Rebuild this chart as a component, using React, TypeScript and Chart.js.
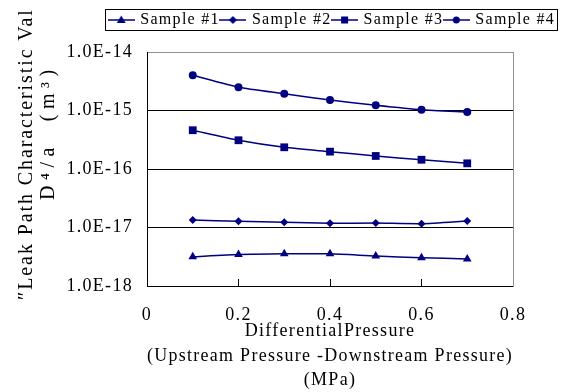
import React, { useEffect, useRef } from 'react';
import { Chart, registerables } from 'chart.js';

Chart.register(...registerables);

// ---- data ----
const pressures = [0.1, 0.2, 0.3, 0.4, 0.5, 0.6, 0.7];
const sample1 = [3.15e-18, 3.45e-18, 3.55e-18, 3.55e-18, 3.25e-18, 3.05e-18, 2.9e-18];
const sample2 = [1.34e-17, 1.28e-17, 1.23e-17, 1.18e-17, 1.19e-17, 1.16e-17, 1.29e-17];
const sample3 = [4.6e-16, 3.1e-16, 2.35e-16, 1.98e-16, 1.67e-16, 1.44e-16, 1.25e-16];
const sample4 = [4.0e-15, 2.5e-15, 1.94e-15, 1.51e-15, 1.23e-15, 1.03e-15, 0.94e-15];
const seriesNames = ['Sample #1', 'Sample #2', 'Sample #3', 'Sample #4'];
const seriesStyles = ['triangle', 'rectRot', 'rect', 'circle'];
const seriesRadii = [5, 4, 5.5, 4];
const yTickValues = [1e-18, 1e-17, 1e-16, 1e-15, 1e-14];
const xTickValues = [0, 0.2, 0.4, 0.6, 0.8];
const xTitleLines = ['DifferentialPressure', '(Upstream Pressure -Downstream Pressure)', '(MPa)'];
const yTitleLine1 = '\u2033Leak Path Characteristic Val';
const yTitleLine2 = 'D\u2074/a  (m\u00b3)';

const NAVY = '#000080';
const FONT = "'Liberation Serif', 'Times New Roman', serif";
const ICON_W = 27;

function makeIcon(style: string): HTMLCanvasElement {
  const c = document.createElement('canvas');
  c.width = ICON_W;
  c.height = 12;
  const g = c.getContext('2d')!;
  g.strokeStyle = NAVY;
  g.fillStyle = NAVY;
  g.lineWidth = 1.5;
  g.beginPath();
  g.moveTo(0, 6);
  g.lineTo(ICON_W, 6);
  g.stroke();
  g.beginPath();
  const cx = ICON_W / 2, cy = 6;
  if (style === 'triangle') {
    g.moveTo(cx, cy - 4.5);
    g.lineTo(cx + 4.5, cy + 3);
    g.lineTo(cx - 4.5, cy + 3);
    g.closePath();
  } else if (style === 'rectRot') {
    g.moveTo(cx, cy - 4);
    g.lineTo(cx + 4, cy);
    g.lineTo(cx, cy + 4);
    g.lineTo(cx - 4, cy);
    g.closePath();
  } else if (style === 'rect') {
    g.rect(cx - 3.5, cy - 3.5, 7, 7);
  } else {
    g.arc(cx, cy, 3.5, 0, Math.PI * 2);
  }
  g.fill();
  return c;
}

function formatSci(v: number): string {
  const e = Math.round(Math.log10(v));
  return '1.0E' + (e < 0 ? '-' : '+') + String(Math.abs(e)).padStart(2, '0');
}

const spacingPlugin = {
  id: 'spacing',
  beforeUpdate(chart: any) { chart.ctx.letterSpacing = '1.3px'; },
  beforeDraw(chart: any) { chart.ctx.letterSpacing = '1.3px'; },
};

const extrasPlugin = {
  id: 'extras',
  afterDraw(chart: any) {
    const ctx = chart.ctx as CanvasRenderingContext2D;
    const area = chart.chartArea;
    // legend frame
    const boxes = chart.legend?.legendHitBoxes || [];
    if (boxes.length) {
      let minX = Infinity, maxX = -Infinity, minY = Infinity, maxY = -Infinity;
      boxes.forEach((b: any) => {
        minX = Math.min(minX, b.left);
        maxX = Math.max(maxX, b.left + b.width);
        minY = Math.min(minY, b.top);
        maxY = Math.max(maxY, b.top + b.height);
      });
      ctx.save();
      ctx.strokeStyle = '#000';
      ctx.lineWidth = 1;
      ctx.strokeRect(Math.round(minX - 5) + 0.5, Math.round(minY - 3) + 0.5, Math.round(maxX - minX + 7), Math.round(maxY - minY + 5));
      ctx.restore();
    }
    // y axis title (two rotated lines)
    ctx.save();
    ctx.fillStyle = '#000';
    ctx.textAlign = 'left';
    ctx.textBaseline = 'alphabetic';
    ctx.font = '20px ' + FONT;
    ctx.letterSpacing = '1.9px';
    ctx.translate(area.left - 115, area.bottom + 14);
    ctx.rotate(-Math.PI / 2);
    ctx.fillText(yTitleLine1, 0, 0);
    ctx.restore();
    ctx.save();
    ctx.fillStyle = '#000';
    ctx.textAlign = 'left';
    ctx.textBaseline = 'alphabetic';
    ctx.font = '20px ' + FONT;
    ctx.letterSpacing = '5.5px';
    ctx.translate(area.left - 93, area.bottom - 86);
    ctx.rotate(-Math.PI / 2);
    ctx.fillText(yTitleLine2, 0, 0);
    ctx.restore();
  },
};

export default function App() {
  const ref = useRef<HTMLCanvasElement>(null);
  useEffect(() => {
    if (!ref.current) return;
    Chart.defaults.color = '#000';
    Chart.defaults.font.family = FONT;
    const all = [sample1, sample2, sample3, sample4];
    const icons = seriesStyles.map(makeIcon);
    const chart = new Chart(ref.current, {
      type: 'line',
      data: {
        datasets: all.map((vals, i) => ({
          label: seriesNames[i],
          data: pressures.map((x, j) => ({ x, y: vals[j] })),
          borderColor: NAVY,
          backgroundColor: NAVY,
          borderWidth: 1.5,
          pointStyle: seriesStyles[i] as any,
          pointRadius: seriesRadii[i],
          pointBorderWidth: 0,
          pointBackgroundColor: NAVY,
          tension: 0.2,
          xAxisID: 'x',
          yAxisID: 'y',
        })),
      },
      options: {
        animation: false,
        responsive: false,
        devicePixelRatio: 1,
        layout: { padding: { top: 10, left: 0, right: 4, bottom: 0 } },
        plugins: {
          tooltip: { enabled: false },
          legend: {
            position: 'top',
            align: 'end',
            labels: {
              usePointStyle: true,
              pointStyleWidth: 22,
              padding: 2,
              font: { size: 16, family: FONT },
              color: '#000',
              generateLabels: (c: any) => {
                const base = (Chart.defaults.plugins.legend.labels as any).generateLabels(c);
                return base.map((l: any, i: number) => ({ ...l, pointStyle: icons[i], fontColor: '#000' }));
              },
            },
          },
        },
        scales: {
          x: {
            type: 'linear',
            position: 'bottom',
            min: 0,
            max: 0.8,
            afterBuildTicks: (s: any) => { s.ticks = xTickValues.map((v) => ({ value: v })); },
            afterFit: (s: any) => { s.height = 106; },
            ticks: {
              padding: 25,
              font: { size: 18, family: FONT },
              color: '#000',
              callback: (v: any) => (Number(v) === 0 ? '0' : String(v)),
            },
            grid: { display: true, drawOnChartArea: false, drawTicks: true, tickLength: -7, color: '#000' },
            border: { display: true, color: '#000', width: 1 },
            title: {
              display: true,
              text: xTitleLines,
              font: { size: 18, family: FONT, lineHeight: 1.34 },
              color: '#000',
              padding: { top: 0, bottom: 0 },
            },
          },
          xT: {
            type: 'linear',
            position: 'top',
            display: true,
            grid: { display: false },
            ticks: { display: false },
            border: { display: false },
            afterFit: (s: any) => { s.height = 14; },
          },
          y: {
            type: 'logarithmic',
            position: 'left',
            min: 1e-18,
            max: 1e-14,
            afterBuildTicks: (s: any) => { s.ticks = yTickValues.map((v) => ({ value: v })); },
            afterFit: (s: any) => { s.width = 147; },
            ticks: {
              padding: 14,
              font: { size: 18, family: FONT },
              color: '#000',
              autoSkip: false,
              callback: (v: any) => formatSci(Number(v)),
            },
            grid: {
              display: true,
              drawTicks: false,
              color: (c: any) => (c.tick && Math.abs(Math.log10(c.tick.value) + 14) < 0.01 ? '#909090' : '#000'),
              lineWidth: 1,
            },
            border: { display: true, color: '#000', width: 1 },
          },
          yR: {
            type: 'linear',
            position: 'right',
            display: true,
            grid: { display: false },
            ticks: { display: false },
            border: { display: true, color: '#909090', width: 1 },
            afterFit: (s: any) => { s.width = 44; },
          },
        },
      } as any,
      plugins: [spacingPlugin, extrasPlugin],
    });
    return () => chart.destroy();
  }, []);
  return (
    <div style={{ position: 'fixed', left: 0, top: 0, width: 561, height: 392, background: '#fff' }}>
      <canvas ref={ref} width={561} height={392} style={{ display: 'block', width: 561, height: 392 }} />
    </div>
  );
}
